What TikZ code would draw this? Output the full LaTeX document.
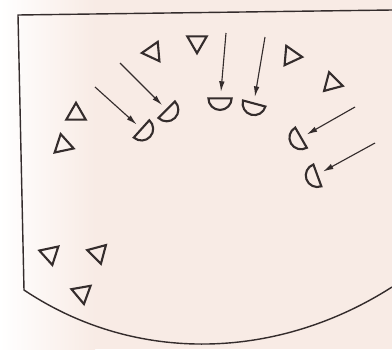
\documentclass[tikz,border=0pt]{standalone}
\usetikzlibrary{shapes.geometric,arrows.meta}
\definecolor{paper}{RGB}{248,235,229}
\definecolor{ink}{RGB}{52,44,44}
\tikzset{
  tri/.style={regular polygon,regular polygon sides=3,draw=ink,line width=1.5pt,minimum size=0.56cm,inner sep=0pt},
  half/.style={semicircle,draw=ink,line width=1.5pt,minimum size=0.29cm,inner sep=0pt},
  arr/.style={draw=ink,line width=0.8pt,-{Latex[length=2.6mm,width=1.4mm]},shorten >=4pt}
}

\begin{document}
\begin{tikzpicture}[x=0.025cm,y=-0.025cm]
        % Paper
        \useasboundingbox (0,0) rectangle (392,349);
        \fill[paper] (0,0) rectangle (392,349);
        \shade[left color=white,right color=paper] (0,0) rectangle (95,349);

        % Outline of the plot
        \draw[ink,line width=1pt] (392,10) -- (18,15) -- (24,290)
            .. controls (136,365) and (278,360) .. (392,287);

        % Draw triangles explicitly
        \node[tri,rotate=95] (t1) at (153,52) {};
        \node[tri,rotate=180] (t2) at (197,42) {};
        \node[tri,rotate=-95] (t3) at (291,56) {};
        \node[tri,rotate=15] (t4) at (332,83) {};
        \node[tri,rotate=0] (t5) at (76,114) {};
        \node[tri,rotate=12] (t6) at (63,145) {};
        \node[tri,rotate=192] (t7) at (50,254) {};
        \node[tri,rotate=75] (t8) at (98,253) {};
        \node[tri,rotate=190] (t9) at (82,293) {};

        % Draw half discs explicitly
        \node[half,rotate=228] (d1) at (145,132) {};
        \node[half,rotate=225] (d2) at (170,113) {};
        \node[half,rotate=180] (d3) at (220,103) {};
        \node[half,rotate=165] (d4) at (253,108) {};
        \node[half,rotate=120] (d5) at (297,140) {};
        \node[half,rotate=110] (d6) at (313,177) {};

        % Arrow tails
        \coordinate (a1) at (95,87);
        \coordinate (a2) at (120,63);
        \coordinate (a3) at (226,33);
        \coordinate (a4) at (265,37);
        \coordinate (a5) at (355,107);
        \coordinate (a6) at (375,143);

        % Draw arrows explicitly
        \draw[arr] (a1) -- (d1);
        \draw[arr] (a2) -- (d2);
        \draw[arr] (a3) -- (d3);
        \draw[arr] (a4) -- (d4);
        \draw[arr] (a5) -- (d5);
        \draw[arr] (a6) -- (d6);
\end{tikzpicture}
\end{document}
